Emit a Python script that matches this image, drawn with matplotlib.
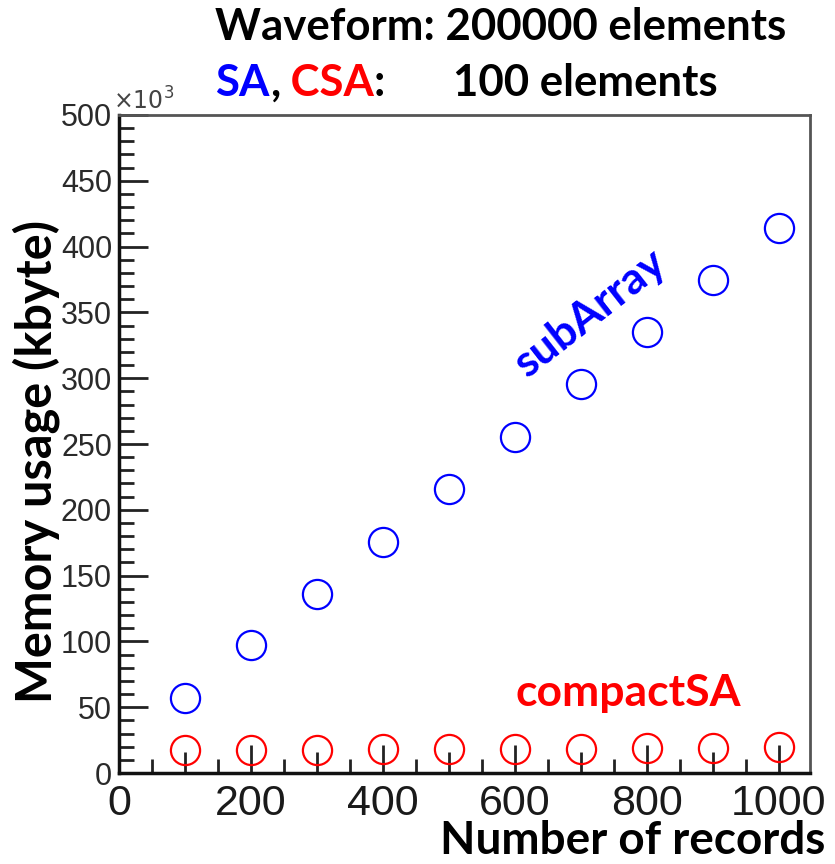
import numpy as np
import matplotlib.pyplot as plt
from matplotlib.ticker import MultipleLocator, FixedLocator

# data (memory in units of 10^3 kbyte)
n_records = [100, 200, 300, 400, 500, 600, 700, 800, 900, 1000]
sub_array = [57, 97, 136, 175.5, 216, 255, 295.5, 335, 374.5, 414]
compact_sa = [17.5, 17.5, 17.5, 18, 18, 18.5, 18.5, 19, 19, 19.5]

label_font = ['Lato', 'DejaVu Sans']
tick_font = 'Liberation Sans'

fig = plt.figure(figsize=(8.35, 8.64), dpi=100)
ax = fig.add_axes([0.1425, 0.1053, 0.8275, 0.7616])

ax.plot(n_records, sub_array, 'o', mfc='none', mec='#0000ff', ms=21, mew=1.6, clip_on=False)
ax.plot(n_records, compact_sa, 'o', mfc='none', mec='#ff0000', ms=21, mew=1.6, clip_on=False)

ax.set_xlim(0, 1047)
ax.set_ylim(0, 500)

# ROOT-like ticks: inside, left and bottom only
ax.xaxis.set_major_locator(MultipleLocator(200))
ax.xaxis.set_minor_locator(FixedLocator([100, 300, 500, 700, 900]))
ax.yaxis.set_major_locator(MultipleLocator(50))
ax.yaxis.set_minor_locator(MultipleLocator(10))
ax.tick_params(axis='both', which='both', direction='in', top=False, right=False,
               width=2, color='#222222')
ax.tick_params(axis='x', which='major', length=20, labelsize=31, pad=8, labelcolor='#1a1a1a')
ax.tick_params(axis='x', which='minor', length=15)
ax.tick_params(axis='y', which='major', length=21, labelsize=22, pad=5, labelcolor='#2a2a2a')
ax.tick_params(axis='y', which='minor', length=11)
for lab in ax.get_xticklabels() + ax.get_yticklabels():
    lab.set_family(tick_font)

# third tick level at the 50s on x
sec = ax.secondary_xaxis(0)
sec.xaxis.set_major_locator(FixedLocator([50, 150, 250, 350, 450, 550, 650, 750, 850, 950]))
sec.tick_params(direction='in', length=10, width=2, color='#222222', labelbottom=False)
sec.spines['bottom'].set_visible(False)

for side in ['left', 'bottom']:
    ax.spines[side].set_linewidth(2.5)
    ax.spines[side].set_color('#111111')
for side in ['top', 'right']:
    ax.spines[side].set_linewidth(2)
    ax.spines[side].set_color('#555555')

ax.text(-0.009, 1.0, r'$\times10^{3}$', transform=ax.transAxes, fontsize=17,
        color='#444444', ha='left', va='bottom', family=tick_font)

ax.set_ylabel('Memory usage (kbyte)', fontsize=35, fontweight='bold', family=label_font)
ax.yaxis.set_label_coords(-0.085, 0.473)
ax.set_xlabel('Number of records', fontsize=33, fontweight='bold', family=label_font)
ax.xaxis.set_label_coords(1.022, -0.072)
ax.xaxis.label.set_ha('right')

ax.text(714, 350, 'subArray', rotation=38, color='#0000ff', fontsize=32, fontweight='bold',
        family=label_font, ha='center', va='center', rotation_mode='anchor')
ax.text(772, 61, 'compactSA', color='#ff0000', fontsize=32, fontweight='bold',
        family=label_font, ha='center', va='center')

# header lines
hsize = 31.5
fig.text(0.258, 0.969, 'Waveform: 200000 elements', fontsize=hsize, fontweight='bold',
         family=label_font, ha='left', va='center')
y2 = 0.904
fig.canvas.draw()
r = fig.canvas.get_renderer()
x = 0.258
for s, c in [('SA', '#0000ff'), (',', 'black'), (' CSA', '#ff0000'), (':', 'black')]:
    t = fig.text(x, y2, s, color=c, fontsize=hsize, fontweight='bold', family=label_font, va='center')
    bb = t.get_window_extent(r)
    x = bb.x1 / fig.bbox.width
fig.text(0.542, y2, '100 elements', fontsize=hsize, fontweight='bold', family=label_font, va='center')

fig.savefig('out.png', dpi=100)
